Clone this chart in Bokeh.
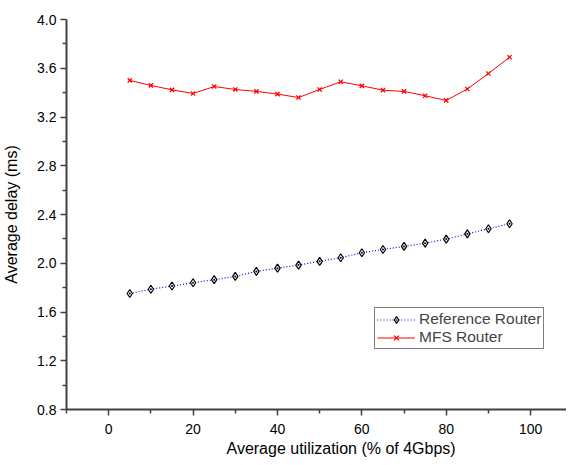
from bokeh.plotting import figure
from bokeh.embed import file_html
from bokeh.resources import INLINE
from bokeh.models import Range1d, FixedTicker, NumeralTickFormatter, Legend, LegendItem, Title

util = [5, 10, 15, 20, 25, 30, 35, 40, 45, 50, 55, 60, 65, 70, 75, 80, 85, 90, 95]
ref_router = [1.752, 1.787, 1.813, 1.840, 1.865, 1.892, 1.933, 1.960, 1.985, 2.016,
              2.045, 2.086, 2.113, 2.138, 2.165, 2.198, 2.241, 2.283, 2.324]
mfs_router = [3.50, 3.459, 3.423, 3.393, 3.45, 3.426, 3.41, 3.388, 3.36, 3.426,
              3.489, 3.456, 3.42, 3.41, 3.374, 3.336, 3.43, 3.557, 3.69]
x_ticks = [0, 20, 40, 60, 80, 100]
y_ticks = [0.8, 1.2, 1.6, 2.0, 2.4, 2.8, 3.2, 3.6, 4.0]
x_title = "Average utilization (% of 4Gbps)"
y_title = "Average delay (ms)"

FONT = "Liberation Sans"

p = figure(width=566, height=457, output_backend="svg", toolbar_location=None,
           x_range=Range1d(-10, 108.5), y_range=Range1d(0.8, 4.0),
           min_border_left=60, min_border_right=0, min_border_top=19, min_border_bottom=47)
p.outline_line_color = None
p.xgrid.visible = False
p.ygrid.visible = False

for ax in (p.xaxis[0], p.yaxis[0]):
    ax.axis_line_color = "#404040"
    ax.axis_line_width = 2
    ax.major_tick_line_color = "#404040"
    ax.minor_tick_line_color = "#404040"
    ax.major_tick_line_width = 1.5
    ax.minor_tick_line_width = 1.5
    ax.major_tick_out = 6
    ax.major_tick_in = 0
    ax.minor_tick_out = 4
    ax.minor_tick_in = 0
    ax.major_label_text_font = FONT
    ax.major_label_text_font_size = "14px"
    ax.major_label_text_color = "black"
    ax.major_label_text_line_height = 1.0
    ax.axis_label_text_font = FONT
    ax.axis_label_text_font_size = "16px"
    ax.axis_label_text_font_style = "normal"
    ax.axis_label_text_color = "black"

p.xaxis.ticker = FixedTicker(ticks=x_ticks, minor_ticks=[-10, 10, 30, 50, 70, 90])
p.yaxis.ticker = FixedTicker(ticks=y_ticks, minor_ticks=[1.0, 1.4, 1.8, 2.2, 2.6, 3.0, 3.4, 3.8])
p.yaxis.formatter = NumeralTickFormatter(format="0.0")
p.yaxis.axis_label = y_title
p.xaxis.major_label_standoff = 8
p.yaxis.major_label_standoff = 4
p.yaxis.axis_label_standoff = 14

p.add_layout(Title(text=x_title, align="left", offset=160, standoff=2,
                   text_font=FONT, text_font_size="16px", text_font_style="normal",
                   text_color="black"), "below")

l1 = p.line(util, ref_router, line_color="blue", line_dash="1 2", line_width=1.2)
m1 = p.scatter(util, ref_router, marker="diamond_dot", size=8, fill_color="white",
               line_color="black", line_width=1.2)
l2 = p.line(util, mfs_router, line_color="red", line_width=1.0)
m2 = p.scatter(util, mfs_router, marker="x", size=6, line_color="red", line_width=1.3)

legend = Legend(items=[LegendItem(label="Reference Router", renderers=[l1, m1]),
                       LegendItem(label="MFS Router", renderers=[l2, m2])],
                location=(308, 60), border_line_color="black", border_line_width=1,
                label_text_font=FONT, label_text_font_size="15.5px",
                glyph_width=38, glyph_height=17, label_height=17, spacing=0,
                padding=2, margin=0, label_standoff=4, background_fill_alpha=1)
p.add_layout(legend)

open("out.html", "w").write(file_html(p, INLINE))
